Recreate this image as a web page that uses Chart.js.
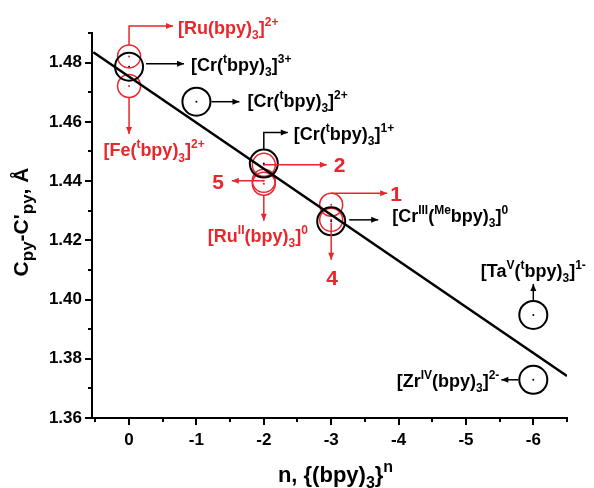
<!DOCTYPE html>
<html>
<head>
<meta charset="utf-8">
<script src="https://cdn.jsdelivr.net/npm/chart.js@4"></script>
<style>
  html, body { margin: 0; padding: 0; background: #fff; }
  #wrap { width: 594px; height: 488px; position: relative; }
</style>
</head>
<body>
<div id="wrap"><canvas id="chart"></canvas></div>
<script>
// values
const blackN = [0, -1, -2, -3, -6, -6];
const blackD = [1.4786, 1.4668, 1.4459, 1.4264, 1.3948, 1.3729];
const blackNames = ['[Cr(^{t}bpy)_{3}]^{3+}', '[Cr(^{t}bpy)_{3}]^{2+}', '[Cr(^{t}bpy)_{3}]^{1+}',
    '[Cr^{III}(^{Me}bpy)_{3}]^{0}', '[Ta^{V}(^{t}bpy)_{3}]^{1-}', '[Zr^{IV}(bpy)_{3}]^{2-}'];

const redN = [0, 0, -2, -2, -2, -3, -3];
const redD = [1.4821, 1.4721, 1.4455, 1.4401, 1.4391, 1.4320, 1.4269];
const redNames = ['[Ru(bpy)_{3}]^{2+}', '[Fe(^{t}bpy)_{3}]^{2+}', '2', '5', '[Ru^{II}(bpy)_{3}]^{0}', '1', '4'];

const fitN = [0.53, -6.5];
const fitD = [1.4835, 1.3742];

const xTicks = [0, -1, -2, -3, -4, -5, -6];
const yTicks = [1.36, 1.38, 1.40, 1.42, 1.44, 1.46, 1.48];

const RED = '#e8262c';
const FONT = '"Liberation Sans", Arial, sans-serif';

const pts = (xs, ys) => xs.map((x, i) => ({ x: x, y: ys[i] }));

// callouts: which point, path offsets (px from point centre), label offset
const callouts = [
    { set: 'red', i: 0, path: [[0, -11.5], [0, -30.5], [44, -30.5]], lx: 49, ly: -29, align: 'left' },
    { set: 'black', i: 0, path: [[17, -3], [55, -3]], lx: 62, ly: -2, align: 'left' },
    { set: 'black', i: 1, path: [[15, 0], [43, 0]], lx: 51, ly: -1, align: 'left' },
    { set: 'red', i: 1, path: [[0, 11.5], [0, 48]], lx: 25, ly: 64, align: 'center' },
    { set: 'black', i: 2, path: [[0, -14], [0, -31], [24, -31]], lx: 30, ly: -30, align: 'left' },
    { set: 'red', i: 2, path: [[0, 0], [63, 0]], lx: 70, ly: 0, align: 'left', big: true },
    { set: 'red', i: 3, path: [[0, 0], [-32, 0]], lx: -40, ly: 1, align: 'right', big: true },
    { set: 'red', i: 4, path: [[0, 11.5], [0, 37]], lx: -6, ly: 52, align: 'center' },
    { set: 'red', i: 5, path: [[0, -11.5], [56, -11.5]], lx: 59, ly: -11, align: 'left', big: true },
    { set: 'black', i: 3, path: [[18, -1.5], [47, -1.5]], lx: 61, ly: -6, align: 'left' },
    { set: 'red', i: 6, path: [[0, 3], [0, 40]], lx: 1, ly: 58, align: 'center', big: true },
    { set: 'black', i: 4, path: [[0, -15], [0, -31]], lx: 0, ly: -44, align: 'center' },
    { set: 'black', i: 5, path: [[-15, 0], [-32, 0]], lx: -34, ly: 1, align: 'right' }
];

function parseRich(s) {
    const parts = [];
    const re = /(\^|_)\{([^}]*)\}|([^^_]+)/g;
    let m;
    while ((m = re.exec(s))) {
        if (m[3]) parts.push({ t: m[3], k: 'n' });
        else parts.push({ t: m[2], k: m[1] === '^' ? 'sup' : 'sub' });
    }
    return parts;
}

function drawRich(ctx, s, x, y, align, color, size, small, weight) {
    const parts = parseRich(s);
    const fontFor = k => `${weight} ${k === 'n' ? size : small}px ${FONT}`;
    let w = 0;
    parts.forEach(p => { ctx.font = fontFor(p.k); p.w = ctx.measureText(p.t).width; w += p.w; });
    let cx = align === 'center' ? x - w / 2 : align === 'right' ? x - w : x;
    const base = y + size * 0.36;
    ctx.fillStyle = color;
    ctx.textAlign = 'left';
    ctx.textBaseline = 'alphabetic';
    parts.forEach(p => {
        ctx.font = fontFor(p.k);
        let by = base;
        if (p.k === 'sup') by = base - size * 0.45;
        if (p.k === 'sub') by = base + size * 0.28;
        ctx.fillText(p.t, cx, by);
        cx += p.w;
    });
}

function arrowHead(ctx, x0, y0, x1, y1) {
    const a = Math.atan2(y1 - y0, x1 - x0);
    const L = 7, W = 3;
    ctx.beginPath();
    ctx.moveTo(x1, y1);
    ctx.lineTo(x1 - L * Math.cos(a) + W * Math.sin(a), y1 - L * Math.sin(a) - W * Math.cos(a));
    ctx.lineTo(x1 - L * Math.cos(a) - W * Math.sin(a), y1 - L * Math.sin(a) + W * Math.cos(a));
    ctx.closePath();
    ctx.fill();
}

const extras = {
    id: 'extras',
    afterDraw(chart) {
        const ctx = chart.ctx;
        const xs = chart.scales.x, ys = chart.scales.y;
        ctx.save();
        // minor ticks
        ctx.strokeStyle = '#000';
        ctx.lineWidth = 2;
        ctx.beginPath();
        for (let v = 1.37; v < 1.495; v += 0.02) {
            const py = Math.round(ys.getPixelForValue(v));
            ctx.moveTo(xs.left, py); ctx.lineTo(xs.left - 4, py);
        }
        for (let v = 0.5; v > -6.6; v -= 1) {
            const px = Math.round(xs.getPixelForValue(v));
            ctx.moveTo(px, ys.bottom); ctx.lineTo(px, ys.bottom + 4);
        }
        ctx.stroke();

        // callouts
        callouts.forEach(c => {
            const isRed = c.set === 'red';
            const n = isRed ? redN[c.i] : blackN[c.i];
            const d = isRed ? redD[c.i] : blackD[c.i];
            const px = xs.getPixelForValue(n), py = ys.getPixelForValue(d);
            const col = isRed ? RED : '#000';
            ctx.strokeStyle = col;
            ctx.fillStyle = col;
            ctx.lineWidth = 1.5;
            ctx.beginPath();
            c.path.forEach((p, k) => {
                if (k === 0) ctx.moveTo(px + p[0], py + p[1]);
                else ctx.lineTo(px + p[0], py + p[1]);
            });
            ctx.stroke();
            const a = c.path[c.path.length - 2], b = c.path[c.path.length - 1];
            arrowHead(ctx, px + a[0], py + a[1], px + b[0], py + b[1]);
            const name = isRed ? redNames[c.i] : blackNames[c.i];
            if (c.big) drawRich(ctx, name, px + c.lx, py + c.ly, c.align, col, 21, 14, 'bold');
            else drawRich(ctx, name, px + c.lx, py + c.ly, c.align, col, 18, 12, 'bold');
        });

        // axis titles
        const ca = chart.chartArea;
        drawRich(ctx, 'n, {(bpy)_{3}}^{n}', (ca.left + ca.right) / 2 + 6, 474, 'center', '#000', 22, 16, 'bold');
        ctx.translate(20, 222);
        ctx.rotate(-Math.PI / 2);
        drawRich(ctx, "C_{py}-C'_{py}, Å", 0, 0, 'center', '#000', 21, 17, 'bold');
        ctx.restore();
    }
};

new Chart(document.getElementById('chart'), {
    type: 'scatter',
    data: {
        datasets: [
            {
                type: 'line',
                data: pts(fitN, fitD),
                borderColor: '#000',
                borderWidth: 2.5,
                pointRadius: 0,
                fill: false
            },
            {
                data: pts(blackN, blackD),
                pointRadius: 14,
                pointBorderWidth: 2,
                borderColor: '#000',
                backgroundColor: 'rgba(0,0,0,0)'
            },
            {
                data: pts(redN, redD),
                pointRadius: 11.5,
                pointBorderWidth: 1.5,
                borderColor: RED,
                backgroundColor: 'rgba(0,0,0,0)'
            },
            {
                data: pts(blackN, blackD),
                pointRadius: 1,
                borderWidth: 0,
                backgroundColor: '#000'
            },
            {
                data: pts(redN, redD),
                pointRadius: 1,
                borderWidth: 0,
                backgroundColor: RED
            }
        ]
    },
    options: {
        responsive: true,
        maintainAspectRatio: false,
        animation: false,
        layout: { padding: { top: 33, right: 27, left: 0, bottom: 0 } },
        plugins: { legend: { display: false }, tooltip: { enabled: false } },
        scales: {
            x: {
                type: 'linear',
                reverse: true,
                min: -6.5,
                max: 0.55,
                afterBuildTicks: s => { s.ticks = xTicks.map(v => ({ value: v })); },
                afterFit: s => { s.height = 70; },
                grid: { drawOnChartArea: false, tickLength: 7, lineWidth: 2, color: '#000' },
                border: { display: true, color: '#000', width: 2 },
                ticks: {
                    color: '#000',
                    padding: 5,
                    font: { family: FONT, size: 17, weight: 'bold' },
                    callback: v => String(v)
                }
            },
            y: {
                min: 1.36,
                max: 1.49,
                afterBuildTicks: s => { s.ticks = yTicks.map(v => ({ value: v })); },
                afterFit: s => { s.width = 92; },
                grid: { drawOnChartArea: false, tickLength: 7, lineWidth: 2, color: '#000' },
                border: { display: true, color: '#000', width: 2 },
                ticks: {
                    color: '#000',
                    padding: 3,
                    font: { family: FONT, size: 17, weight: 'bold' },
                    callback: v => Number(v).toFixed(2)
                }
            }
        }
    },
    plugins: [extras]
});
</script>
</body>
</html>
